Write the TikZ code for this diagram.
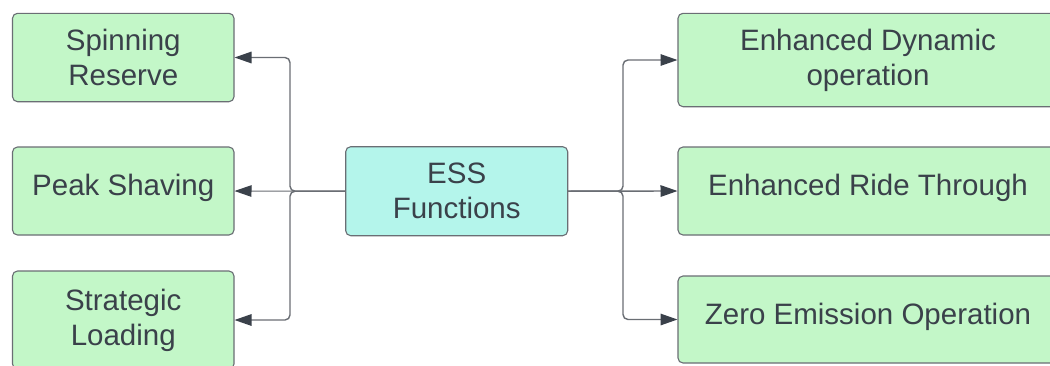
\documentclass[tikz,border=0pt]{standalone}
\usepackage{fontspec}
\setmainfont{Liberation Sans}
\usetikzlibrary{arrows.meta}
\definecolor{boxgreen}{HTML}{C3F7C8}
\definecolor{boxteal}{HTML}{B4F5EB}
\definecolor{txt}{HTML}{3A414A}
\definecolor{edge}{HTML}{6A6E74}
\definecolor{tipc}{HTML}{3A414A}
\newcommand{\upline}[1]{\raisebox{3pt}[\height][\depth]{#1}}
\tikzset{
  box/.style={draw=edge, line width=1.1pt, rounded corners=5pt, fill=boxgreen,
    text=txt, align=center, inner sep=0pt, outer sep=0pt,
    font=\fontsize{29.5}{35}\selectfont},
  hub/.style={box, fill=boxteal},
  conn/.style={draw=edge, line width=1.4pt, rounded corners=5pt,
    -{Triangle[length=17pt,width=11.5pt,fill=tipc,color=tipc]}, shorten >=0.5pt},
}
\begin{document}
\begin{tikzpicture}[x=1pt,y=-1pt]
\useasboundingbox (0,0) rectangle (1050,365);
\clip (0,0) rectangle (1050,365);
\fill[white] (0,0) rectangle (1050,365);
% left boxes
\node[box, minimum width=221.5pt, minimum height=88.4pt] (sr) at (123.25,57.5) {Spinning\\Reserve};
\node[box, minimum width=221.5pt, minimum height=88pt] (ps) at (123.25,191) {\upline{Peak Shaving}};
\node[box, minimum width=221.5pt, minimum height=98pt] (sl) at (123.25,320) {Strategic\\Loading};
% hub
\node[hub, minimum width=222pt, minimum height=89pt] (ess) at (456.7,191.2) {ESS\\Functions};
% right boxes
\node[box, minimum width=380pt, minimum height=93.4pt] (de) at (868,60) {Enhanced Dynamic\\operation};
\node[box, minimum width=380pt, minimum height=88pt] (rt) at (868,191) {\upline{Enhanced Ride Through}};
\node[box, minimum width=380pt, minimum height=87pt] (ze) at (868,319.5) {\upline{Zero Emission Operation}};
% junctions
\coordinate (jl) at (290,191.2);
\coordinate (jr) at (623,191.2);
% left connectors
\draw[conn] (ess.west) -- (jl) |- (sr.east);
\draw[conn, line width=1pt] (ess.west) -- (ps.east);
\draw[conn] (ess.west) -- (jl) |- (sl.east);
% right connectors
\draw[conn] (ess.east) -- (jr) |- (de.west);
\draw[conn] (ess.east) -- (rt.west);
\draw[conn] (ess.east) -- (jr) |- (ze.west);
\end{tikzpicture}
\end{document}
